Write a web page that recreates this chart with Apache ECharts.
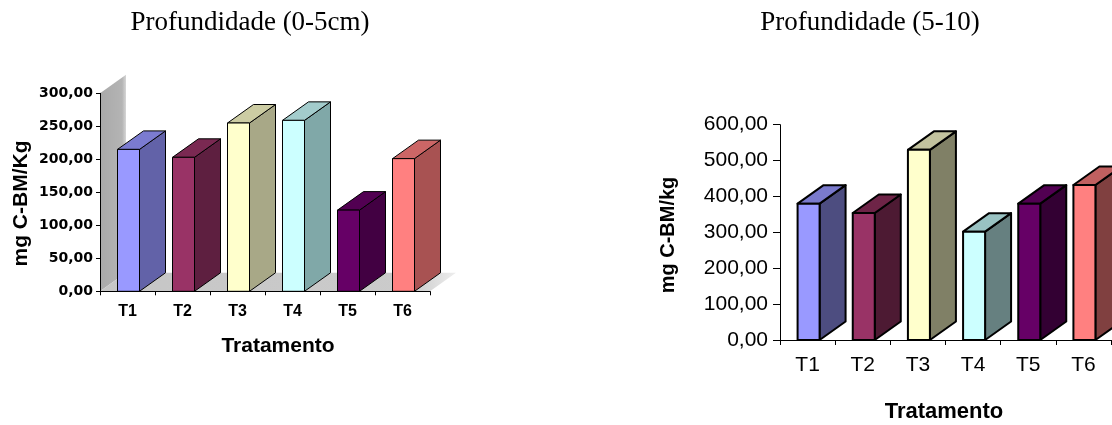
<!DOCTYPE html>
<html>
<head>
<meta charset="utf-8">
<script src="https://cdn.jsdelivr.net/npm/echarts@6/dist/echarts.min.js"></script>
<style>
  html, body { margin: 0; padding: 0; background: #ffffff; }
  #chart { width: 1112px; height: 425px; }
</style>
</head>
<body>
<div id="chart"></div>
<script>
// Microbial biomass carbon by treatment, two soil depths
const categories = ['T1', 'T2', 'T3', 'T4', 'T5', 'T6'];
const shallowValues = [215, 203, 255, 259, 123, 201];   // 0-5 cm
const deepValues = [380, 354, 530, 302, 380, 432];      // 5-10 cm
const shallowAxis = { min: 0, max: 300, interval: 50 };
const deepAxis = { min: 0, max: 600, interval: 100 };

// Face colours of the 3-D columns
const frontColors = ['#9999ff', '#993366', '#ffffcc', '#ccffff', '#660066', '#ff8080'];
const leftSide = ['#6262a8', '#5e1f40', '#a8a887', '#80a8a8', '#420042', '#a85252'];
const leftTop = ['#7b7bd0', '#7a2952', '#cccca3', '#a3cccc', '#520052', '#cc6666'];
const rightSide = ['#4d4d80', '#4d1a33', '#808066', '#668080', '#330033', '#804040'];
const rightTop = ['#7a7acc', '#6e2447', '#c2c29e', '#99c2c2', '#520052', '#c06060'];

const DX = 26, DY = -18.5, BAR_W = 22;
const sans = '"Liberation Sans", Arial, sans-serif';
const serif = '"Liberation Serif", "Times New Roman", serif';

function fmt(v) { return v.toFixed(2).replace('.', ','); }

function columnRenderer(sideColors, topColors, lineWidth) {
  return function (params, api) {
    const i = params.dataIndex;
    const base = api.coord([api.value(0), 0]);
    const top = api.coord([api.value(0), api.value(1)]);
    const x0 = base[0] - BAR_W / 2 + 1;
    const yb = base[1], yt = top[1];
    const st = { stroke: '#000', lineWidth: lineWidth, lineJoin: 'round' };
    return {
      type: 'group',
      children: [
        { type: 'polygon', shape: { points: [[x0 + BAR_W, yt], [x0 + BAR_W + DX, yt + DY], [x0 + BAR_W + DX, yb + DY], [x0 + BAR_W, yb]] },
          style: Object.assign({ fill: sideColors[i] }, st) },
        { type: 'polygon', shape: { points: [[x0, yt], [x0 + DX, yt + DY], [x0 + BAR_W + DX, yt + DY], [x0 + BAR_W, yt]] },
          style: Object.assign({ fill: topColors[i] }, st) },
        { type: 'rect', shape: { x: x0, y: yt, width: BAR_W, height: yb - yt },
          style: Object.assign({ fill: frontColors[i] }, st) }
      ]
    };
  };
}

// Grey side wall and floor behind the shallow-depth columns
function wallRenderer(params, api) {
  const cs = params.coordSys;
  const x = cs.x, y = cs.y, w = cs.width, h = cs.height;
  return {
    type: 'group',
    children: [
      { type: 'polygon', shape: { points: [[x, y + h], [x, y], [x + DX, y + DY], [x + DX, y + h + DY]] },
        style: { fill: new echarts.graphic.LinearGradient(0, 0, 1, 0, [
          { offset: 0, color: '#a9a9a9' }, { offset: 0.85, color: '#b4b4b4' }, { offset: 1, color: '#d6d6d6' }]) } },
      { type: 'polygon', shape: { points: [[x, y + h], [x + w, y + h], [x + w + DX, y + h + DY], [x + DX, y + h + DY]] },
        style: { fill: new echarts.graphic.LinearGradient(0, 0, 1, 0, [
          { offset: 0, color: '#c6c6c6' }, { offset: 0.88, color: '#cbcbcb' }, { offset: 1, color: '#eeeeee' }]) } }
    ]
  };
}

const chart = echarts.init(document.getElementById('chart'), null, { renderer: 'canvas' });

chart.setOption({
  animation: false,
  backgroundColor: '#ffffff',
  grid: [
    { left: 100, top: 93.3, width: 330, height: 198 },
    { left: 780, top: 124.7, width: 331, height: 215.3 }
  ],
  xAxis: [
    { type: 'category', gridIndex: 0, data: categories, z: 3,
      axisLine: { show: true, lineStyle: { color: '#000', width: 1 } },
      axisTick: { show: true, length: 4, inside: false, lineStyle: { color: '#000' } },
      axisLabel: { margin: 12, color: '#000', fontFamily: sans, fontWeight: 'bold', fontSize: 16 } },
    { type: 'category', gridIndex: 1, data: categories, z: 3,
      axisLine: { show: true, lineStyle: { color: '#000', width: 1 } },
      axisTick: { show: true, length: 5, inside: false, lineStyle: { color: '#000' } },
      axisLabel: { margin: 15, color: '#000', fontFamily: sans, fontSize: 21 } }
  ],
  yAxis: [
    { type: 'value', gridIndex: 0, min: shallowAxis.min, max: shallowAxis.max, interval: shallowAxis.interval, z: 3,
      axisLine: { show: true, lineStyle: { color: '#000', width: 1 } },
      axisTick: { show: true, length: 4, inside: false, lineStyle: { color: '#000' } },
      splitLine: { show: false },
      axisLabel: { margin: 7, color: '#000', fontFamily: '"DejaVu Sans", sans-serif', fontWeight: 'bold', fontSize: 14, formatter: fmt } },
    { type: 'value', gridIndex: 1, min: deepAxis.min, max: deepAxis.max, interval: deepAxis.interval, z: 3,
      axisLine: { show: true, lineStyle: { color: '#000', width: 1 } },
      axisTick: { show: true, length: 7, inside: false, lineStyle: { color: '#000' } },
      splitLine: { show: false },
      axisLabel: { margin: 12, color: '#000', fontFamily: sans, fontSize: 21, formatter: fmt } }
  ],
  graphic: [
    { type: 'text', x: 250, y: 23,
      style: { text: 'Profundidade (0-5cm)', font: '27px ' + serif, fill: '#000', align: 'center', verticalAlign: 'middle' } },
    { type: 'text', x: 870, y: 23,
      style: { text: 'Profundidade (5-10)', font: '27px ' + serif, fill: '#000', align: 'center', verticalAlign: 'middle' } },
    { type: 'text', x: 278, y: 346,
      style: { text: 'Tratamento', font: 'bold 21px ' + sans, fill: '#000', align: 'center', verticalAlign: 'middle' } },
    { type: 'text', x: 944, y: 412,
      style: { text: 'Tratamento', font: 'bold 22px ' + sans, fill: '#000', align: 'center', verticalAlign: 'middle' } },
    { type: 'text', x: 21, y: 203.5, rotation: Math.PI / 2,
      style: { text: 'mg C-BM/Kg', font: 'bold 21px ' + sans, fill: '#000', align: 'center', verticalAlign: 'middle' } },
    { type: 'text', x: 668, y: 235, rotation: Math.PI / 2,
      style: { text: 'mg C-BM/kg', font: 'bold 20px ' + sans, fill: '#000', align: 'center', verticalAlign: 'middle' } }
  ],
  series: [
    { type: 'custom', xAxisIndex: 0, yAxisIndex: 0, z: 1, clip: false, silent: true,
      data: [[0, 0]], renderItem: wallRenderer },
    { type: 'custom', name: 'Profundidade (0-5cm)', xAxisIndex: 0, yAxisIndex: 0, z: 2, clip: false,
      data: shallowValues.map((v, i) => [i, v]), encode: { x: 0, y: 1 },
      renderItem: columnRenderer(leftSide, leftTop, 1) },
    { type: 'custom', name: 'Profundidade (5-10)', xAxisIndex: 1, yAxisIndex: 1, z: 2, clip: false,
      data: deepValues.map((v, i) => [i, v]), encode: { x: 0, y: 1 },
      renderItem: columnRenderer(rightSide, rightTop, 2) }
  ]
});
</script>
</body>
</html>
